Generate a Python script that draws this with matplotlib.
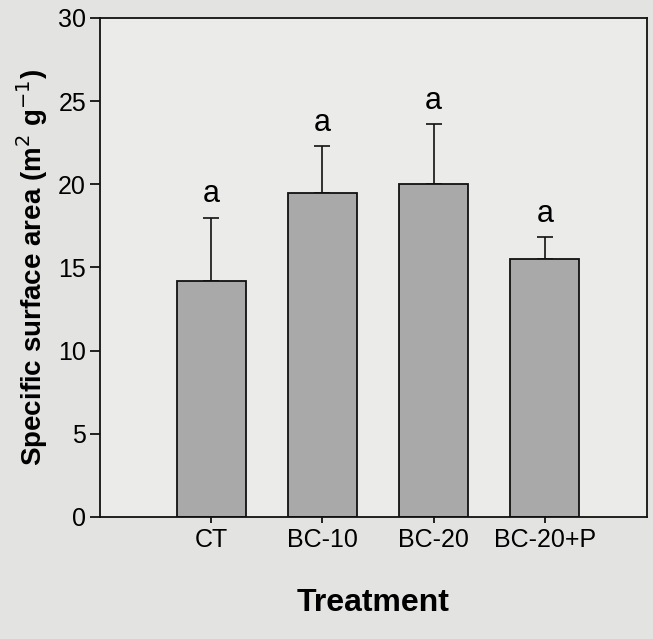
import numpy as np
import matplotlib.pyplot as plt

plt.rcParams['font.family'] = ['Liberation Sans', 'DejaVu Sans']

treatments = ['CT', 'BC-10', 'BC-20', 'BC-20+P']
ssa_mean = [14.2, 19.5, 20.0, 15.5]
ssa_err = [3.8, 2.8, 3.6, 1.3]
letters = ['a', 'a', 'a', 'a']

fig = plt.figure(figsize=(6.53, 6.39), dpi=100, facecolor='#e3e3e1')
ax = fig.add_axes([0.153, 0.191, 0.838, 0.781])
ax.set_facecolor('#ebebea')

x = np.arange(len(treatments))
ax.bar(x, ssa_mean, width=0.62, color='#a9a9a9', edgecolor='#111111', linewidth=1.3,
       zorder=2)
ax.errorbar(x, ssa_mean, yerr=[np.zeros(len(ssa_err)), ssa_err], fmt='none',
            ecolor='#111111', elinewidth=1.2, capsize=6, capthick=1.2, zorder=1)

# letters above the error bars
for xi, m, e, l in zip(x, ssa_mean, ssa_err, letters):
    ax.text(xi, m + e + 0.5, l, ha='center', va='bottom', fontsize=22)

ax.set_xlim(-1.0, 3.92)
ax.set_ylim(0, 30)
ax.set_yticks(range(0, 31, 5))
ax.set_xticks(x)
ax.set_xticklabels(treatments)
ax.tick_params(axis='y', direction='out', labelsize=18, width=1.2, length=7, pad=3)
ax.tick_params(axis='x', direction='out', labelsize=18, width=1.2, length=4, pad=4)
for s in ax.spines.values():
    s.set_linewidth(1.3)
    s.set_color('#111111')

ax.set_ylabel('Specific surface area (m$^2$ g$^{-1}$)', fontsize=20, fontweight='bold',
              labelpad=6)
ax.set_xlabel('Treatment', fontsize=23, fontweight='bold', labelpad=26)

plt.savefig('out.png', dpi=100, facecolor=fig.get_facecolor())
